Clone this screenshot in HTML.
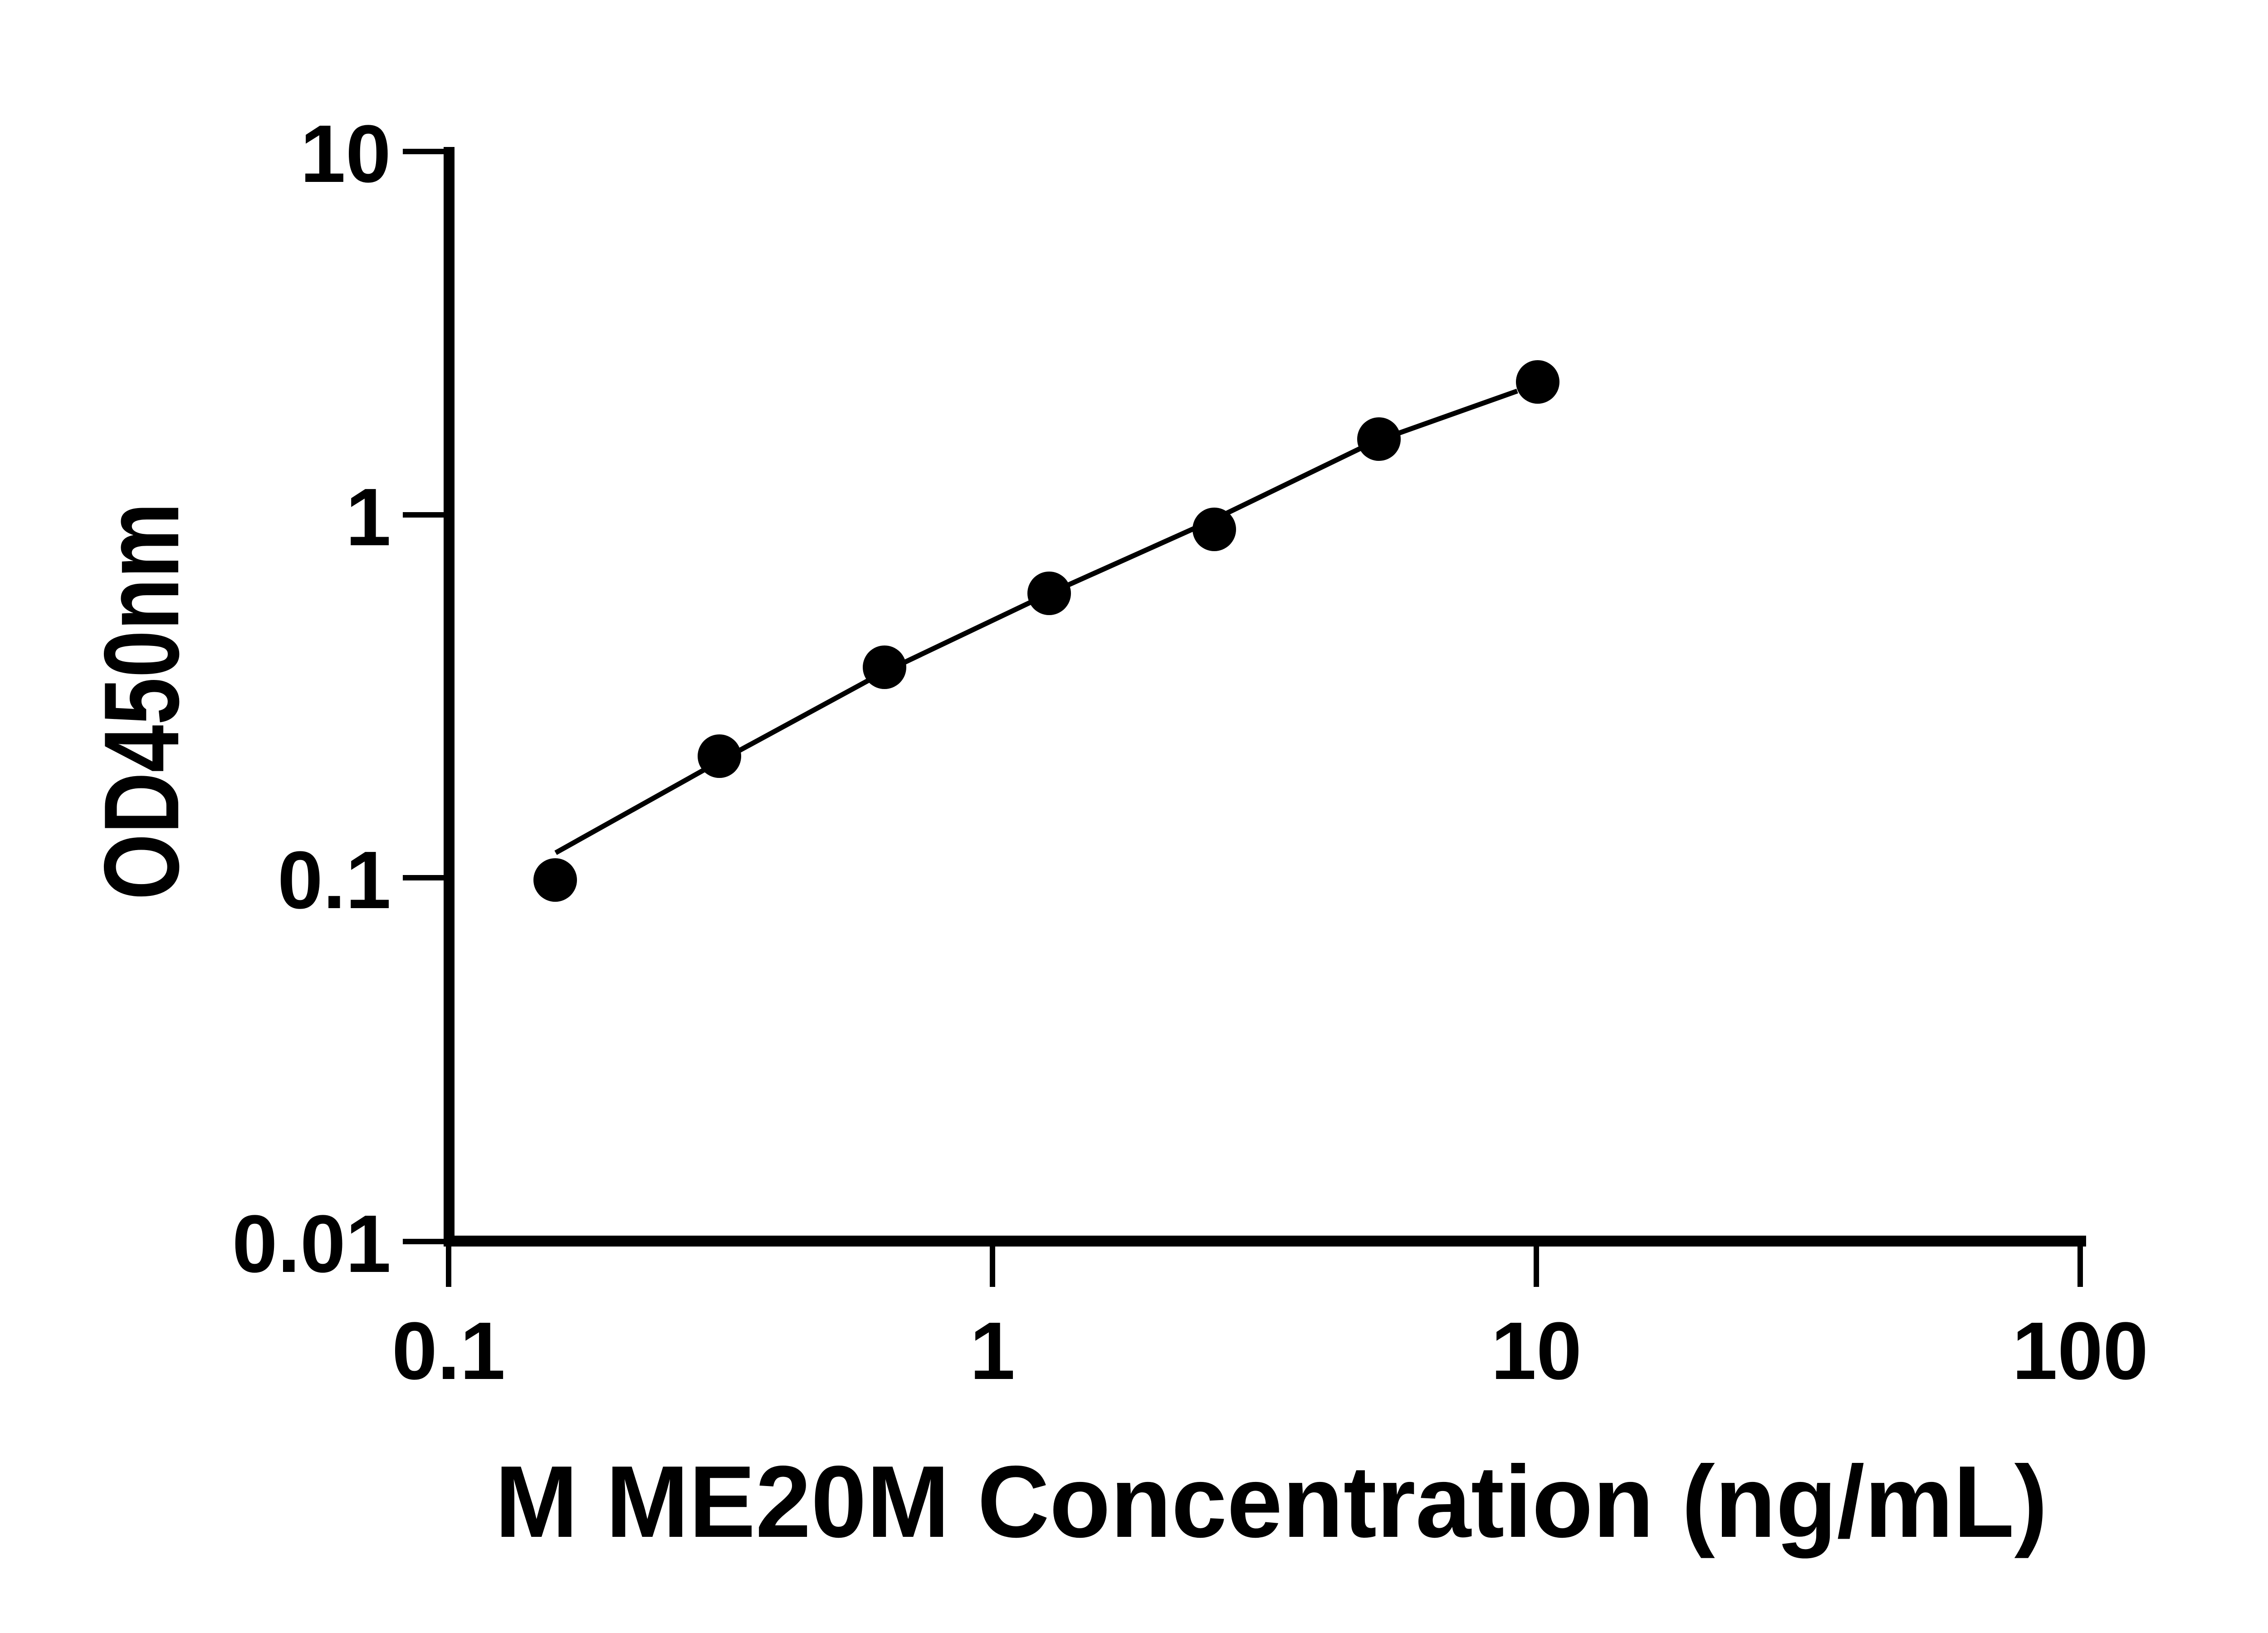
<!DOCTYPE html>
<html><head><style>
html,body{margin:0;padding:0;background:#fff;}
svg{display:block;}
text{font-family:"Liberation Sans",sans-serif;font-weight:bold;fill:#000;}
</style></head><body>
<svg width="5142" height="3600" viewBox="0 0 5142 3600" xmlns="http://www.w3.org/2000/svg">
<g stroke="#000" fill="none">
<line x1="990" y1="324" x2="990" y2="2748" stroke-width="24"/>
<line x1="978" y1="2736" x2="4599" y2="2736" stroke-width="24"/>
<line x1="888" y1="334" x2="990" y2="334" stroke-width="12"/>
<line x1="888" y1="1135" x2="990" y2="1135" stroke-width="12"/>
<line x1="888" y1="1935" x2="990" y2="1935" stroke-width="12"/>
<line x1="888" y1="2737" x2="990" y2="2737" stroke-width="12"/>
<line x1="989" y1="2736" x2="989" y2="2837" stroke-width="12"/>
<line x1="2188" y1="2736" x2="2188" y2="2837" stroke-width="12"/>
<line x1="3387" y1="2736" x2="3387" y2="2837" stroke-width="12"/>
<line x1="4586" y1="2736" x2="4586" y2="2837" stroke-width="12"/>
<polyline stroke-width="11" points="1225,1880 1583,1680 1944,1484 2305,1312 2666,1150 3027,975 3345,862"/>
</g>
<g fill="#000">
<circle cx="1224" cy="1940" r="48"/>
<circle cx="1586" cy="1667" r="48"/>
<circle cx="1950" cy="1471" r="48"/>
<circle cx="2313" cy="1308" r="48"/>
<circle cx="2677" cy="1167" r="48"/>
<circle cx="3040" cy="968" r="48"/>
<circle cx="3390" cy="842" r="48"/>
</g>
<g font-size="180" text-anchor="end">
<text x="862" y="401">10</text>
<text x="862" y="1202">1</text>
<text x="862" y="2002">0.1</text>
<text x="862" y="2804">0.01</text>
</g>
<g font-size="180" text-anchor="middle">
<text x="989" y="3040">0.1</text>
<text x="2188" y="3040">1</text>
<text x="3387" y="3040">10</text>
<text x="4586" y="3040">100</text>
</g>
<text x="1091" y="3388" font-size="225" textLength="3423" lengthAdjust="spacingAndGlyphs">M ME20M Concentration (ng/mL)</text>
<text transform="translate(393,1984) rotate(-90)" font-size="235" textLength="876" lengthAdjust="spacingAndGlyphs">OD450nm</text>
</svg>
</body></html>
